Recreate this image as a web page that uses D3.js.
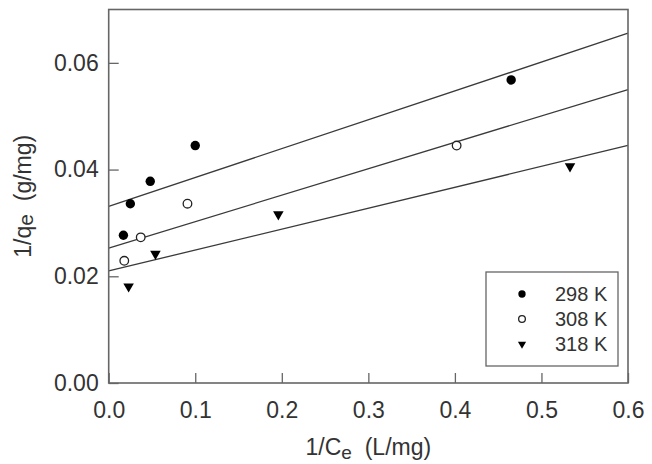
<!DOCTYPE html>
<html>
<head>
<meta charset="utf-8">
<script src="https://cdn.jsdelivr.net/npm/d3@7"></script>
<style>
  body { margin: 0; background: #fff; }
  svg text { font-family: "Liberation Sans", Arial, sans-serif; fill: #333; }
</style>
</head>
<body>
<div id="chart"></div>
<script>
// series: [1/Ce, 1/qe]
const series298 = [[0.017, 0.0277], [0.025, 0.0336], [0.048, 0.0378], [0.100, 0.0445], [0.465, 0.0568]];
const series308 = [[0.018, 0.0229], [0.037, 0.0273], [0.091, 0.0336], [0.402, 0.0445]];
const series318 = [[0.023, 0.0181], [0.054, 0.0242], [0.196, 0.0316], [0.533, 0.0406]];
// fitted lines: [intercept, slope]
const fitLines = [[0.0331, 0.0541], [0.0253, 0.0495], [0.0210, 0.0392]];
const legendLabels = ["298 K", "308 K", "318 K"];
const xTicks = [0, 0.1, 0.2, 0.3, 0.4, 0.5, 0.6];
const yTicks = [0, 0.02, 0.04, 0.06];

const width = 652, height = 464;
const margin = { left: 108.7, right: 24, top: 9.5, bottom: 81 };

const svg = d3.select("#chart").append("svg")
  .attr("width", width).attr("height", height);

const x = d3.scaleLinear().domain([0, 0.6]).range([margin.left, width - margin.right]);
const y = d3.scaleLinear().domain([0, 0.07]).range([height - margin.bottom, margin.top]);

// fitted lines
const line = d3.line().x(d => x(d[0])).y(d => y(d[1]));
fitLines.forEach(f => {
  svg.append("path")
    .attr("d", line([[0, f[0]], [0.6, f[0] + f[1] * 0.6]]))
    .attr("fill", "none")
    .attr("stroke", "#3a3a3a")
    .attr("stroke-width", 1.3);
});

// axes, ticks pointing inward
const xAxis = svg.append("g")
  .attr("transform", `translate(0,${y(0)})`)
  .call(d3.axisBottom(x).tickValues(xTicks).tickFormat(d3.format(".1f")).tickSize(-10).tickPadding(19));
const yAxis = svg.append("g")
  .attr("transform", `translate(${x(0)},0)`)
  .call(d3.axisLeft(y).tickValues(yTicks).tickFormat(d3.format(".2f")).tickSize(-10).tickPadding(10));
[xAxis, yAxis].forEach(a => {
  a.select(".domain").remove();
  a.selectAll("line").attr("stroke", "#666").attr("stroke-width", 1.3);
  a.selectAll("text").attr("font-size", 23).attr("fill", "#333")
    .attr("font-family", '"Liberation Sans", Arial, sans-serif');
});

// frame
svg.append("rect")
  .attr("x", x(0)).attr("y", y(0.07))
  .attr("width", x(0.6) - x(0)).attr("height", y(0) - y(0.07))
  .attr("fill", "none").attr("stroke", "#666").attr("stroke-width", 1.6);

// markers
const tri = d3.symbol().type(d3.symbolTriangle).size(44);
function drawMarker(g, kind, cx, cy, scale) {
  if (kind === 0) {
    g.append("circle").attr("cx", cx).attr("cy", cy).attr("r", 4.7 * scale).attr("fill", "#000");
  } else if (kind === 1) {
    g.append("circle").attr("cx", cx).attr("cy", cy).attr("r", 4.3 * scale)
      .attr("fill", "#fff").attr("stroke", "#222").attr("stroke-width", 1.3);
  } else {
    g.append("path").attr("d", tri.size(48 * scale * scale)())
      .attr("transform", `translate(${cx},${cy}) rotate(180)`).attr("fill", "#000");
  }
}
const pts = svg.append("g");
[series298, series308, series318].forEach((s, i) => {
  s.forEach(d => drawMarker(pts, i, x(d[0]), y(d[1]), 1));
});

// legend
const lg = svg.append("g");
lg.append("rect").attr("x", 486).attr("y", 272).attr("width", 132).attr("height", 94)
  .attr("fill", "#fff").attr("stroke", "#666").attr("stroke-width", 1.3);
legendLabels.forEach((t, i) => {
  const cy = 294 + i * 25;
  drawMarker(lg, i, 522, cy, 0.78);
  lg.append("text").attr("x", 555).attr("y", cy + 7).attr("font-size", 20).text(t);
});

// axis titles
const xt = svg.append("text")
  .attr("x", (x(0) + x(0.6)) / 2).attr("y", 455)
  .attr("text-anchor", "middle").attr("font-size", 23);
xt.append("tspan").text("1/C");
xt.append("tspan").attr("font-size", 19).attr("dy", 4).text("e");
xt.append("tspan").attr("dy", -4).text("\u00a0\u00a0(L/mg)");

const yt = svg.append("text")
  .attr("transform", `translate(31,${(y(0) + y(0.07)) / 2}) rotate(-90)`)
  .attr("text-anchor", "middle").attr("font-size", 23);
yt.append("tspan").text("1/q");
yt.append("tspan").attr("font-size", 21).attr("dy", 2).text("e");
yt.append("tspan").attr("dy", -2).text("\u00a0\u00a0(g/mg)");
</script>
</body>
</html>
